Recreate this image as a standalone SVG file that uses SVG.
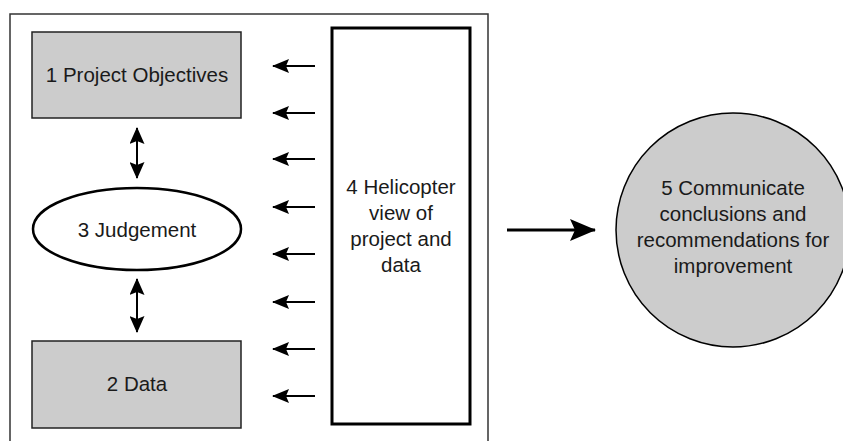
<svg xmlns="http://www.w3.org/2000/svg" width="843" height="441" viewBox="0 0 843 441">
<defs>
<style>
.t{font-family:"Liberation Sans",Arial,sans-serif;font-size:20.5px;fill:#1a1a1a;text-anchor:middle}
.box{fill:#cccccc;stroke:#222;stroke-width:1.5}
.ln{stroke:#000;fill:none}
</style>
<marker id="ah" markerUnits="userSpaceOnUse" markerWidth="17" markerHeight="14" refX="16" refY="7" orient="auto-start-reverse" viewBox="0 0 17 14">
<path d="M0,0 L17,7 L0,14 L3,7 z" fill="#000"/>
</marker>
<marker id="ahd" markerUnits="userSpaceOnUse" markerWidth="17" markerHeight="15" refX="16" refY="7.5" orient="auto-start-reverse" viewBox="0 0 17 15">
<path d="M0,0 L17,7.5 L0,15 L3,7.5 z" fill="#000"/>
</marker>
<marker id="ahb" markerUnits="userSpaceOnUse" markerWidth="26" markerHeight="22" refX="25" refY="11" orient="auto" viewBox="0 0 26 22">
<path d="M0,0 L26,11 L0,22 L5,11 z" fill="#000"/>
</marker>
</defs>
<path d="M10,441 V14 H488 V441" fill="none" stroke="#333" stroke-width="1.5"/>
<g id="n1"><rect class="box" x="32" y="32" width="209" height="86"/><text class="t" x="137" y="82">1 Project Objectives</text></g>
<g id="n3"><ellipse cx="137" cy="229" rx="104" ry="41" fill="#fff" stroke="#000" stroke-width="2.5"/><text class="t" x="137" y="237">3 Judgement</text></g>
<g id="n2"><rect class="box" x="32" y="341" width="209" height="87"/><text class="t" x="137" y="391">2 Data</text></g>
<g id="n4"><rect x="332" y="28" width="138" height="396" fill="#fff" stroke="#000" stroke-width="3"/>
<text class="t" x="401" y="194">4 Helicopter</text><text class="t" x="401" y="220">view of</text><text class="t" x="401" y="246">project and</text><text class="t" x="401" y="272">data</text></g>
<g id="n5"><circle cx="733" cy="230" r="117" fill="#cccccc" stroke="#000" stroke-width="1.5"/>
<text class="t" x="733" y="195">5 Communicate</text><text class="t" x="733" y="221">conclusions and</text><text class="t" x="733" y="247">recommendations for</text><text class="t" x="733" y="273">improvement</text></g>
<g id="connectors">
<line class="ln" stroke-width="2" x1="137" y1="128" x2="137" y2="178" marker-start="url(#ahd)" marker-end="url(#ahd)"/>
<line class="ln" stroke-width="2" x1="137" y1="279" x2="137" y2="332" marker-start="url(#ahd)" marker-end="url(#ahd)"/>
<line class="ln" stroke-width="2" x1="315" y1="66" x2="273" y2="66" marker-end="url(#ah)"/>
<line class="ln" stroke-width="2" x1="315" y1="113" x2="273" y2="113" marker-end="url(#ah)"/>
<line class="ln" stroke-width="2" x1="315" y1="159" x2="273" y2="159" marker-end="url(#ah)"/>
<line class="ln" stroke-width="2" x1="315" y1="207" x2="273" y2="207" marker-end="url(#ah)"/>
<line class="ln" stroke-width="2" x1="315" y1="254" x2="273" y2="254" marker-end="url(#ah)"/>
<line class="ln" stroke-width="2" x1="315" y1="302" x2="273" y2="302" marker-end="url(#ah)"/>
<line class="ln" stroke-width="2" x1="315" y1="349" x2="273" y2="349" marker-end="url(#ah)"/>
<line class="ln" stroke-width="2" x1="315" y1="396" x2="273" y2="396" marker-end="url(#ah)"/>
<line class="ln" stroke-width="3" x1="507" y1="230" x2="595" y2="230" marker-end="url(#ahb)"/>
</g>
</svg>
